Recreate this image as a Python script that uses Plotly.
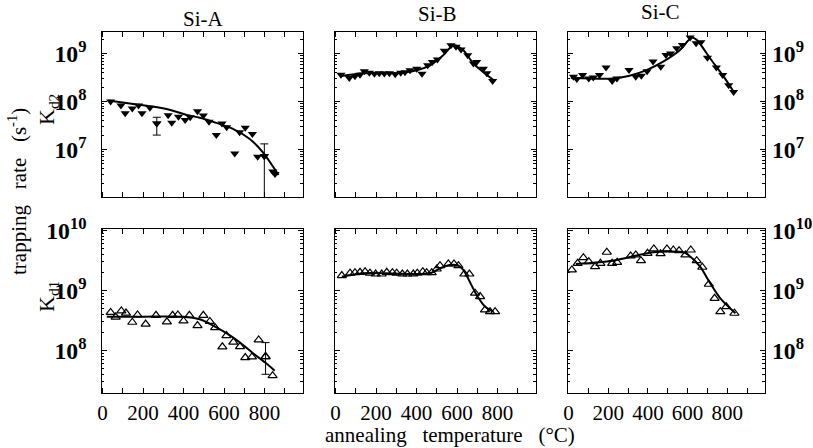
import plotly.graph_objects as go

# ---------------- data (annealing temperature in °C, trapping rate in s^-1) ----------------
# Si-A, K_d2 (filled down triangles)
a2_T = [40, 91, 112, 147, 178, 195, 234, 268, 324, 342, 375, 408, 433, 469, 498, 526, 562, 590, 613, 653, 677, 705, 740, 766, 799, 841, 852]
a2_K = [1.0e8, 8.3e7, 5.7e7, 7.2e7, 8.3e7, 5.7e7, 7.4e7, 3.5e7, 5.2e7, 3.6e7, 4.8e7, 4.1e7, 4.7e7, 6.3e7, 5.1e7, 3.8e7, 2.0e7, 3.5e7, 2.9e7, 8.3e6, 2.3e7, 2.85e7, 2.1e7, 7.1e6, 7.2e6, 3.5e6, 3.1e6]
a2_fit_T = [29, 152, 316, 415, 480, 562, 644, 727, 792, 869]
a2_fit_K = [1.05e8, 8.9e7, 7.0e7, 5.25e7, 4.6e7, 3.6e7, 2.7e7, 1.66e7, 8.7e6, 2.95e6]
a2_err_T = [268, 799]
a2_err_K = [3.5e7, 7.2e6]
a2_err_up = [1.2e7, 5.9e6]
a2_err_dn = [1.5e7, 6.4e6]

# Si-B, K_d2
b2_T = [27, 68, 96, 121, 142, 167, 192, 216, 241, 266, 295, 322, 343, 368, 401, 427, 455, 478, 503, 537, 570, 595, 620, 653, 681, 697, 730, 747, 776]
b2_K = [3.6e8, 3.1e8, 3.35e8, 3.6e8, 4.3e8, 4.0e8, 3.8e8, 3.9e8, 3.85e8, 3.9e8, 3.7e8, 4.0e8, 4.1e8, 4.5e8, 4.85e8, 3.8e8, 5.7e8, 6.7e8, 7.5e8, 1.14e9, 1.49e9, 1.38e9, 1.21e9, 9.2e8, 6.2e8, 6.7e8, 4.85e8, 3.9e8, 2.67e8]
b2_fit_T = [27, 137, 302, 401, 467, 532, 582, 631, 681, 730, 779]
b2_fit_K = [3.4e8, 3.9e8, 3.9e8, 4.5e8, 5.7e8, 9.2e8, 1.49e9, 1.17e9, 6.2e8, 4.1e8, 2.85e8]

# Si-C, K_d2
c2_T = [25, 42, 71, 102, 125, 156, 189, 220, 244, 305, 339, 367, 396, 426, 465, 491, 514, 545, 574, 613, 643, 667, 700, 745, 777, 807, 832]
c2_K = [3.3e8, 2.94e8, 3.56e8, 3.03e8, 3.18e8, 3.56e8, 5.1e8, 2.67e8, 3.03e8, 4.53e8, 3.3e8, 3.46e8, 4.3e8, 6.8e8, 5.33e8, 9.3e8, 1.01e9, 1.29e9, 1.51e9, 2.16e9, 1.64e9, 1.73e9, 8.2e8, 5.1e8, 3.56e8, 2.2e8, 1.58e8]
c2_fit_T = [12, 223, 308, 393, 477, 562, 621, 646, 714, 782, 832]
c2_fit_K = [3.14e8, 3.03e8, 3.46e8, 4.53e8, 6.8e8, 1.19e9, 2.16e9, 1.93e9, 7.9e8, 3.3e8, 1.6e8]

# Si-A, K_d1 (open up triangles)
a1_T = [40, 65, 93, 116, 147, 173, 213, 264, 318, 346, 372, 400, 429, 469, 498, 530, 556, 592, 612, 646, 679, 705, 738, 771, 805, 840]
a1_K = [4.3e8, 3.6e8, 4.55e8, 4.2e8, 2.95e8, 3.9e8, 2.75e8, 3.85e8, 3.0e8, 3.85e8, 3.9e8, 3.1e8, 3.85e8, 2.6e8, 3.85e8, 3.05e8, 2.4e8, 1.15e8, 1.77e8, 1.38e8, 1.16e8, 7.6e7, 7.8e7, 1.5e8, 7.9e7, 3.8e7]
a1_fit_T = [21, 200, 398, 480, 546, 612, 677, 743, 808, 850]
a1_fit_K = [3.65e8, 3.65e8, 3.65e8, 3.3e8, 2.6e8, 1.94e8, 1.37e8, 9.0e7, 6.1e7, 4.6e7]
a1_err_T = [805]
a1_err_K = [7.9e7]
a1_err_up = [5.6e7]
a1_err_dn = [3.9e7]

# Si-B, K_d1
b1_T = [31, 72, 96, 121, 146, 170, 198, 228, 253, 281, 302, 330, 355, 384, 404, 431, 450, 475, 500, 516, 557, 585, 607, 636, 661, 689, 714, 738, 763, 788]
b1_K = [1.77e9, 1.94e9, 1.98e9, 2.01e9, 2.06e9, 1.94e9, 1.88e9, 1.88e9, 2.01e9, 1.98e9, 1.94e9, 1.88e9, 1.88e9, 1.88e9, 1.94e9, 2.06e9, 1.98e9, 1.98e9, 2.28e9, 2.59e9, 2.77e9, 2.77e9, 2.59e9, 1.88e9, 1.88e9, 9.0e8, 7.9e8, 4.73e8, 4.44e8, 4.44e8]
b1_fit_T = [31, 137, 467, 516, 565, 607, 631, 697, 738, 779]
b1_fit_K = [1.7e9, 1.94e9, 1.94e9, 2.34e9, 2.66e9, 2.59e9, 2.2e9, 8.4e8, 5.4e8, 4.44e8]

# Si-C, K_d1
c1_T = [17, 46, 75, 102, 134, 161, 193, 220, 245, 313, 339, 365, 398, 430, 464, 496, 528, 557, 589, 616, 646, 674, 707, 736, 765, 795, 836]
c1_K = [2.2e9, 2.84e9, 3.52e9, 3.02e9, 2.5e9, 2.84e9, 4.34e9, 2.84e9, 2.95e9, 3.76e9, 3.91e9, 3.14e9, 4.17e9, 4.92e9, 4.1e9, 4.92e9, 4.73e9, 4.6e9, 3.91e9, 4.73e9, 3.14e9, 2.44e9, 1.27e9, 7.4e8, 4.44e8, 5.37e8, 4.17e8]
c1_fit_T = [37, 223, 426, 579, 604, 663, 714, 765, 841]
c1_fit_K = [2.77e9, 3.14e9, 4.34e9, 4.34e9, 3.91e9, 2.5e9, 1.32e9, 7.4e8, 4.17e8]

titles = ["Si-A", "Si-B", "Si-C"]
x_tickvals = [0, 100, 200, 300, 400, 500, 600, 700, 800, 900]
x_ticktext = ["0", "", "200", "", "400", "", "600", "", "800", ""]

# ---------------- figure ----------------
W, H = 813, 448
SERIF = "Liberation Serif"
fig = go.Figure()

def fx(px):
    return px / W

def fy(py):
    return 1 - py / H

def px_x(a, b):
    return [fx(a), fx(b)]

def px_y(top, bot):
    return [fy(bot), fy(top)]

xdoms = [px_x(101.5, 303), px_x(334.5, 536), px_x(567.5, 765)]
ydoms = [px_y(32, 197), px_y(229, 393)]
yranges = [[6.01, 9.45], [7.29, 10.025]]

top_sets = [
    (a2_T, a2_K, a2_fit_T, a2_fit_K),
    (b2_T, b2_K, b2_fit_T, b2_fit_K),
    (c2_T, c2_K, c2_fit_T, c2_fit_K),
]
bot_sets = [
    (a1_T, a1_K, a1_fit_T, a1_fit_K),
    (b1_T, b1_K, b1_fit_T, b1_fit_K),
    (c1_T, c1_K, c1_fit_T, c1_fit_K),
]

axis_idx = 0
for row, sets in enumerate([top_sets, bot_sets]):
    for col, (T, K, fT, fK) in enumerate(sets):
        axis_idx += 1
        xa = "x" if axis_idx == 1 else f"x{axis_idx}"
        ya = "y" if axis_idx == 1 else f"y{axis_idx}"
        fig.add_trace(go.Scatter(x=fT, y=fK, mode="lines", xaxis=xa, yaxis=ya,
                                 line=dict(color="black", width=2, shape="spline", smoothing=0.8),
                                 hoverinfo="skip", showlegend=False))
        if row == 0:
            marker = dict(symbol="triangle-down", size=8, color="black")
        else:
            marker = dict(symbol="triangle-up-open", size=8, color="black", line=dict(width=1.2, color="black"))
        fig.add_trace(go.Scatter(x=T, y=K, mode="markers", xaxis=xa, yaxis=ya,
                                 marker=marker, showlegend=False))
        xkey = "xaxis" if axis_idx == 1 else f"xaxis{axis_idx}"
        ykey = "yaxis" if axis_idx == 1 else f"yaxis{axis_idx}"
        fig.layout[xkey] = dict(
            domain=xdoms[col], anchor=ya, range=[-5, 990], automargin=False,
            showline=True, linecolor="black", linewidth=1.3, mirror="allticks",
            ticks="inside", ticklen=5, tickcolor="black", tickwidth=1,
            tickmode="array", tickvals=x_tickvals, ticktext=x_ticktext,
            showticklabels=(row == 1), showgrid=False, zeroline=False,
            ticklabelstandoff=1,
            tickfont=dict(family=SERIF, size=21, color="black"),
        )
        fig.layout[ykey] = dict(
            domain=ydoms[row], anchor=xa, type="log", range=yranges[row], automargin=False,
            showline=True, linecolor="black", linewidth=1.3, mirror="allticks",
            ticks="inside", ticklen=5, tickcolor="black", tickwidth=1,
            tickmode="linear", tick0=0, dtick=1, exponentformat="power", showexponent="all",
            minor=dict(ticks="inside", ticklen=2.5, tickcolor="black", tickwidth=0.8, showgrid=False),
            showticklabels=(col != 1), side=("right" if col == 2 else "left"),
            ticklabelstandoff=(2 if col == 2 else 10),
            showgrid=False, zeroline=False,
            tickfont=dict(family=SERIF, size=19, color="black", weight="bold"),
        )

# error bars
fig.add_trace(go.Scatter(x=a2_err_T, y=a2_err_K, mode="markers", xaxis="x", yaxis="y",
                         marker=dict(symbol="triangle-down", size=8, color="black"),
                         error_y=dict(type="data", array=a2_err_up, arrayminus=a2_err_dn,
                                      color="black", thickness=1, width=4),
                         showlegend=False))
fig.add_trace(go.Scatter(x=a1_err_T, y=a1_err_K, mode="markers", xaxis="x4", yaxis="y4",
                         marker=dict(symbol="triangle-up-open", size=8, color="black", line=dict(width=1.2)),
                         error_y=dict(type="data", array=a1_err_up, arrayminus=a1_err_dn,
                                      color="black", thickness=1, width=4),
                         showlegend=False))

ann = []
title_pos = [(203, 19), (437, 14), (660, 12)]
for t, (x, y) in zip(titles, title_pos):
    ann.append(dict(text=t, x=fx(x), y=fy(y), xref="paper", yref="paper",
                    showarrow=False, font=dict(family=SERIF, size=21, color="black"),
                    xanchor="center", yanchor="middle"))
ann.append(dict(text="K<sub>d2</sub>", x=fx(48), y=fy(110), xref="paper", yref="paper",
                showarrow=False, textangle=-90, font=dict(family=SERIF, size=22, color="black"),
                xanchor="center", yanchor="middle"))
ann.append(dict(text="K<sub>d1</sub>", x=fx(48), y=fy(297), xref="paper", yref="paper",
                showarrow=False, textangle=-90, font=dict(family=SERIF, size=22, color="black"),
                xanchor="center", yanchor="middle"))
ann.append(dict(text="trapping&nbsp;&nbsp;&nbsp;rate&nbsp;&nbsp;&nbsp;(s<sup>-1</sup>)",
                x=fx(17), y=fy(192), xref="paper", yref="paper",
                showarrow=False, textangle=-90, font=dict(family=SERIF, size=21, color="black"),
                xanchor="center", yanchor="middle"))
ann.append(dict(text="annealing&nbsp;&nbsp;&nbsp;temperature&nbsp;&nbsp;&nbsp;(°C)",
                x=fx(450), y=fy(435), xref="paper", yref="paper",
                showarrow=False, font=dict(family=SERIF, size=21, color="black"),
                xanchor="center", yanchor="middle"))

fig.update_layout(width=W, height=H, margin=dict(l=0, r=0, t=0, b=0),
                  paper_bgcolor="white", plot_bgcolor="white", annotations=ann)

# remove the page's default body margin so the figure sits at the window's top-left corner
fig.write_html("out.html", config={"displayModeBar": False},
               post_script="document.body.style.margin='0px';")
